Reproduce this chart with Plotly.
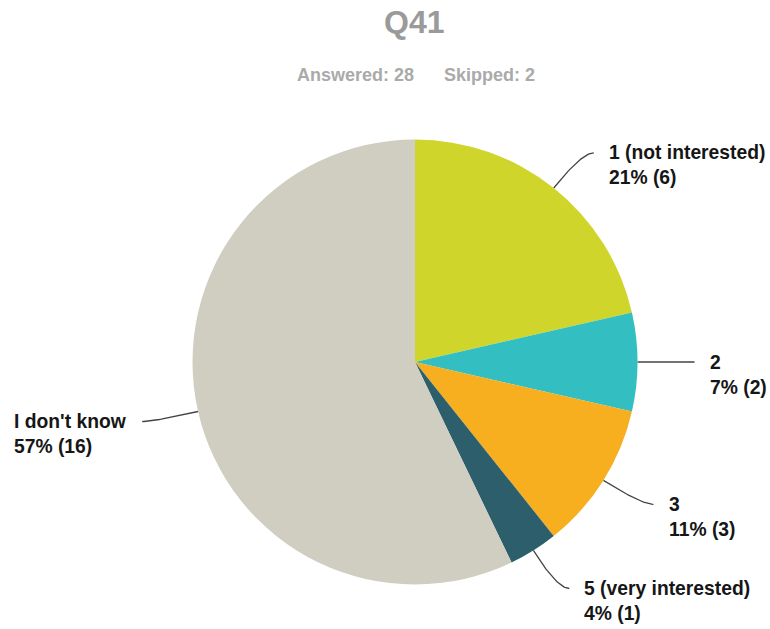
import numpy as np
import plotly.graph_objects as go

title = "Q41"
answered = 28
skipped = 2
labels = ["1 (not interested)", "2", "3", "5 (very interested)", "I don't know"]
counts = [6, 2, 3, 1, 16]
colors = ["#D0D52B", "#33BFC1", "#F7AE1F", "#2C5F6B", "#D0CEC0"]

W, H = 770, 629
cx, cy, R = 415, 362, 222.5
FONT = "Liberation Sans, Arial, sans-serif"

fig = go.Figure()
fig.add_trace(go.Pie(
    labels=labels, values=counts, sort=False, direction="clockwise", rotation=0,
    marker=dict(colors=colors, line=dict(width=0)), textinfo="none",
    hoverinfo="label+percent+value", showlegend=False,
    domain=dict(x=[(cx - R) / W, (cx + R) / W], y=[1 - (cy + R) / H, 1 - (cy - R) / H]),
))

total = sum(counts)
cum = np.cumsum([0] + counts)
annotations = []
for i, (lab, c) in enumerate(zip(labels, counts)):
    mid = (cum[i] + c / 2) / total * 2 * np.pi
    s, co = np.sin(mid), np.cos(mid)
    p0 = np.array([cx + R * s, cy - R * co])
    p1 = np.array([cx + (R + 45) * s, cy - (R + 45) * co])
    side = 1 if s >= -1e-9 else -1
    p2 = p1 + np.array([12 * side, 0])
    t = np.linspace(0, 1, 30)[:, None]
    pts = (1 - t) ** 2 * p0 + 2 * (1 - t) * t * p1 + t ** 2 * p2
    fig.add_trace(go.Scatter(x=pts[:, 0], y=pts[:, 1], mode="lines",
                             line=dict(color="#444444", width=1.3),
                             hoverinfo="skip", showlegend=False))
    pct = round(100 * c / total)
    annotations.append(dict(
        x=p2[0] + 13 * side, y=p2[1] - 12.5, xref="x", yref="y",
        text=f"<b>{lab}<br>{pct}% ({c})</b>", showarrow=False,
        xanchor="left" if side > 0 else "right", yanchor="top",
        align="left", font=dict(family=FONT, size=19.3, color="#161616"),
    ))

annotations.append(dict(x=414, y=22, xref="x", yref="y", text=f"<b>{title}</b>",
                        showarrow=False, font=dict(family=FONT, size=32, color="#9A9A9A")))
annotations.append(dict(x=355, y=75, xref="x", yref="y", text=f"<b>Answered: {answered}</b>",
                        showarrow=False, font=dict(family=FONT, size=18, color="#AAAAAA")))
annotations.append(dict(x=489, y=75, xref="x", yref="y", text=f"<b>Skipped: {skipped}</b>",
                        showarrow=False, font=dict(family=FONT, size=18, color="#AAAAAA")))

fig.update_layout(
    width=W, height=H, margin=dict(l=0, r=0, t=0, b=0),
    paper_bgcolor="white", plot_bgcolor="rgba(0,0,0,0)",
    xaxis=dict(range=[0, W], visible=False, fixedrange=True),
    yaxis=dict(range=[H, 0], visible=False, fixedrange=True),
    annotations=annotations,
)
fig.write_html("out.html")
